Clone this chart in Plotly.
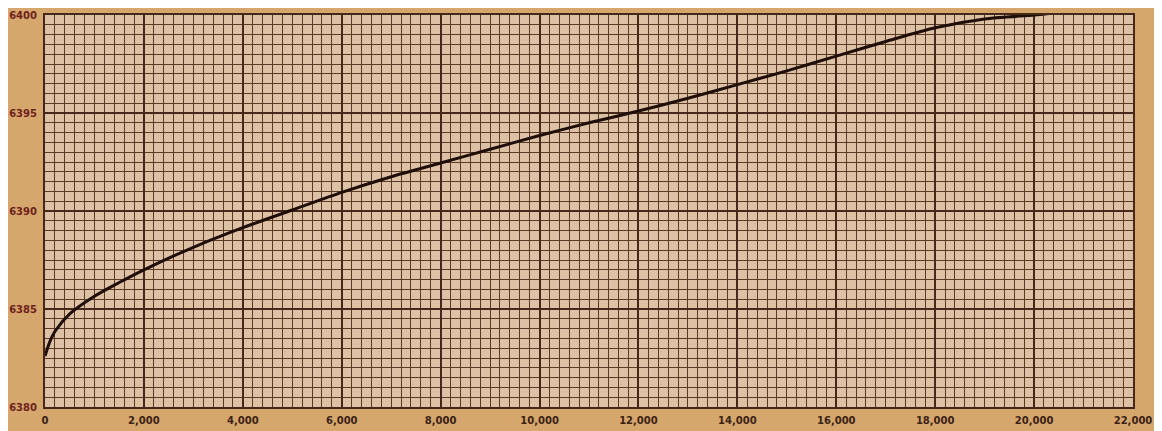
import plotly.graph_objects as go

# Data
depth_x = [0, 100, 200, 500, 1000, 1500, 2000, 3000, 4000, 5000, 6000, 7000, 8000,
           9000, 10000, 11000, 12000, 13000, 14000, 15000, 16000, 17000, 18000,
           19000, 20000, 20400]
value_y = [6382.6, 6383.35, 6383.85, 6384.75, 6385.65, 6386.35, 6387.0, 6388.15,
           6389.15, 6390.05, 6390.95, 6391.75, 6392.45, 6393.15, 6393.85, 6394.5,
           6395.1, 6395.75, 6396.45, 6397.15, 6397.9, 6398.65, 6399.35, 6399.8,
           6400.0, 6400.1]

x_ticks = list(range(0, 22001, 2000))
y_ticks = [6380, 6385, 6390, 6395, 6400]

paper_col = "#d6a76c"
cell_col = "#dcc1a5"
grid_col = "#45281a"
minor_col = "#5a3a27"

fig = go.Figure()
fig.add_trace(go.Scatter(
    x=depth_x, y=value_y, mode="lines",
    line=dict(color="#1f0d08", width=3, shape="spline", smoothing=0.8),
    hoverinfo="skip", showlegend=False,
))

# page body adds an ~8px offset, so the figure is sized to fit the window
fig.update_layout(
    width=1154, height=423,
    margin=dict(l=37, r=29, t=7, b=24),
    paper_bgcolor=paper_col,
    plot_bgcolor=cell_col,
    showlegend=False,
)

fig.update_xaxes(
    range=[0, 22000],
    tickvals=x_ticks,
    tickformat=",d",
    automargin=False,
    showgrid=True, gridcolor=grid_col, gridwidth=2,
    minor=dict(dtick=200, showgrid=True, gridcolor=minor_col, gridwidth=1.4, ticks=""),
    showline=True, linecolor=grid_col, linewidth=2, mirror=True,
    zeroline=False, ticks="", ticklabelstandoff=3,
    tickfont=dict(family="DejaVu Sans", size=10, color="#3a2216", weight="bold"),
)
fig.update_yaxes(
    range=[6380, 6400],
    tickvals=y_ticks,
    tickformat="d",
    automargin=False,
    showgrid=True, gridcolor=grid_col, gridwidth=2,
    minor=dict(dtick=0.5, showgrid=True, gridcolor=minor_col, gridwidth=1.4, ticks=""),
    showline=True, linecolor=grid_col, linewidth=2, mirror=True,
    zeroline=False, ticks="", ticklabelstandoff=4,
    tickfont=dict(family="DejaVu Sans", size=10, color="#6e1f1c", weight="bold"),
)

fig.write_html("out.html")
